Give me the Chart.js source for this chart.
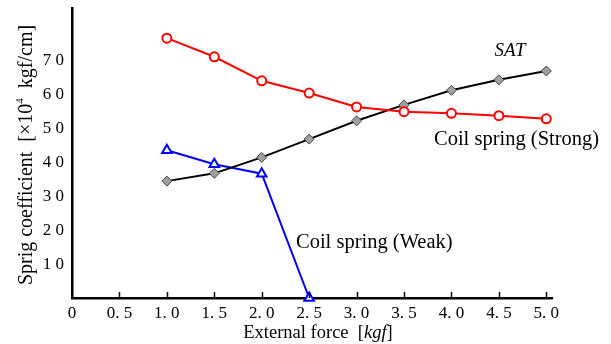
<!DOCTYPE html>
<html>
<head>
<meta charset="UTF-8">
<title>Spring coefficient</title>
<script src="https://cdn.jsdelivr.net/npm/chart.js"></script>
<style>
  html, body { margin: 0; padding: 0; background: #fff; }
  #wrap { width: 611px; height: 344px; }
</style>
</head>
<body>
<div id="wrap"><canvas id="springChart" width="611" height="344"></canvas></div>
<script>
// values
const forceX = [1.0, 1.5, 2.0, 2.5, 3.0, 3.5, 4.0, 4.5, 5.0];
const satValues = [34.5, 36.8, 41.5, 46.9, 52.3, 57.0, 61.3, 64.4, 67.0];
const strongValues = [76.7, 71.2, 64.1, 60.5, 56.4, 55.0, 54.5, 53.8, 52.9];
const weakX = [1.0, 1.5, 2.0, 2.5];
const weakValues = [43.6, 39.5, 36.7, 0];
const xTickValues = [0, 0.5, 1.0, 1.5, 2.0, 2.5, 3.0, 3.5, 4.0, 4.5, 5.0];
const yTickValues = [10, 20, 30, 40, 50, 60, 70];

const serif = '"Liberation Serif", "DejaVu Serif", serif';

// the original uses wide digits: "7 0", "0. 5"
function spacedInt(v) {
  return String(v).split('').join(' ');
}
function spacedDec(v) {
  const s = v.toFixed(1).split('.');
  return s[0] + '. ' + s[1];
}

function pts(xs, ys) {
  return xs.map((x, i) => ({ x: x, y: ys[i] }));
}

// titles, notes and inward ticks on the x axis
const decorPlugin = {
  id: 'decor',
  afterDraw(chart) {
    const ctx = chart.ctx;
    const xs = chart.scales.x, ys = chart.scales.y;
    const bottom = ys.getPixelForValue(0);
    ctx.save();
    ctx.strokeStyle = '#000';
    ctx.lineWidth = 1.5;
    xTickValues.forEach(v => {
      if (v === 0) return;
      const px = Math.round(xs.getPixelForValue(v)) + 0.5;
      ctx.beginPath();
      ctx.moveTo(px, bottom);
      ctx.lineTo(px, bottom - 6);
      ctx.stroke();
    });

    ctx.fillStyle = '#000';
    ctx.textBaseline = 'middle';

    // notes
    ctx.font = 'italic 19px ' + serif;
    ctx.textAlign = 'center';
    ctx.fillText('SAT', 510, 51);
    ctx.font = '20.5px ' + serif;
    ctx.textAlign = 'left';
    ctx.fillText('Coil spring (Strong)', 434, 140);
    ctx.fillText('Coil spring (Weak)', 296, 243);

    // x title with italic unit
    const y = 333;
    const parts = [
      { t: 'External force  [', f: '18.5px ' + serif },
      { t: 'kgf', f: 'italic 18.5px ' + serif },
      { t: ']', f: '18.5px ' + serif }
    ];
    let total = 0;
    parts.forEach(p => { ctx.font = p.f; p.w = ctx.measureText(p.t).width; total += p.w; });
    let x = 318 - total / 2;
    ctx.textAlign = 'left';
    parts.forEach(p => { ctx.font = p.f; ctx.fillText(p.t, x, y); x += p.w; });

    // y title, rotated
    ctx.translate(27, 155);
    ctx.rotate(-Math.PI / 2);
    const yparts = [
      { t: 'Sprig coefficient  [\u00d710', f: '20px ' + serif, dy: 0 },
      { t: '4', f: '11px ' + serif, dy: -7 },
      { t: '  kgf/cm]', f: '20px ' + serif, dy: 0 }
    ];
    total = 0;
    yparts.forEach(p => { ctx.font = p.f; p.w = ctx.measureText(p.t).width; total += p.w; });
    x = -total / 2;
    yparts.forEach(p => { ctx.font = p.f; ctx.fillText(p.t, x, p.dy); x += p.w; });
    ctx.restore();
  }
};

new Chart(document.getElementById('springChart'), {
  type: 'line',
  data: {
    datasets: [
      {
        label: 'Coil spring (Strong)',
        data: pts(forceX, strongValues),
        borderColor: '#ff0000',
        borderWidth: 2,
        pointStyle: 'circle',
        pointRadius: 4.5,
        pointBorderWidth: 2,
        pointBackgroundColor: '#ffffff',
        pointBorderColor: '#ff0000'
      },
      {
        label: 'SAT',
        data: pts(forceX, satValues),
        borderColor: '#000000',
        borderWidth: 2,
        pointStyle: 'rectRot',
        pointRadius: 5,
        pointBorderWidth: 1,
        pointBackgroundColor: '#a0a0a0',
        pointBorderColor: '#444444'
      },
      {
        label: 'Coil spring (Weak)',
        data: pts(weakX, weakValues),
        borderColor: '#0000ff',
        borderWidth: 2,
        pointStyle: 'triangle',
        pointRadius: 5.5,
        pointBorderWidth: 2,
        pointBackgroundColor: '#ffffff',
        pointBorderColor: '#0000ff'
      }
    ]
  },
  options: {
    responsive: false,
    animation: false,
    clip: false,
    layout: { padding: { top: 8, right: 59, left: 0, bottom: 0 } },
    plugins: {
      legend: { display: false },
      tooltip: { enabled: false }
    },
    scales: {
      x: {
        type: 'linear',
        min: 0,
        max: 5.06,
        afterFit(scale) {
          scale.height = 46;
          scale.paddingLeft = 0;
          scale.paddingRight = 0;
        },
        afterBuildTicks(scale) { scale.ticks = xTickValues.map(v => ({ value: v })); },
        border: { display: true, color: '#000', width: 2.5 },
        grid: { display: false, drawTicks: false },
        ticks: {
          padding: 5,
          color: '#000',
          maxRotation: 0,
          autoSkip: false,
          font: { family: serif, size: 17 },
          callback: v => v === 0 ? '0' : spacedDec(v)
        }
      },
      y: {
        type: 'linear',
        min: 0,
        max: 85.6,
        afterFit(scale) {
          scale.width = 72;
          scale.paddingTop = 0;
          scale.paddingBottom = 0;
        },
        afterBuildTicks(scale) { scale.ticks = yTickValues.map(v => ({ value: v })); },
        border: { display: true, color: '#000', width: 2.5 },
        grid: { display: false, drawTicks: false },
        ticks: {
          padding: 8,
          color: '#000',
          autoSkip: false,
          font: { family: serif, size: 17 },
          callback: v => spacedInt(v)
        }
      }
    }
  },
  plugins: [decorPlugin]
});
</script>
</body>
</html>
